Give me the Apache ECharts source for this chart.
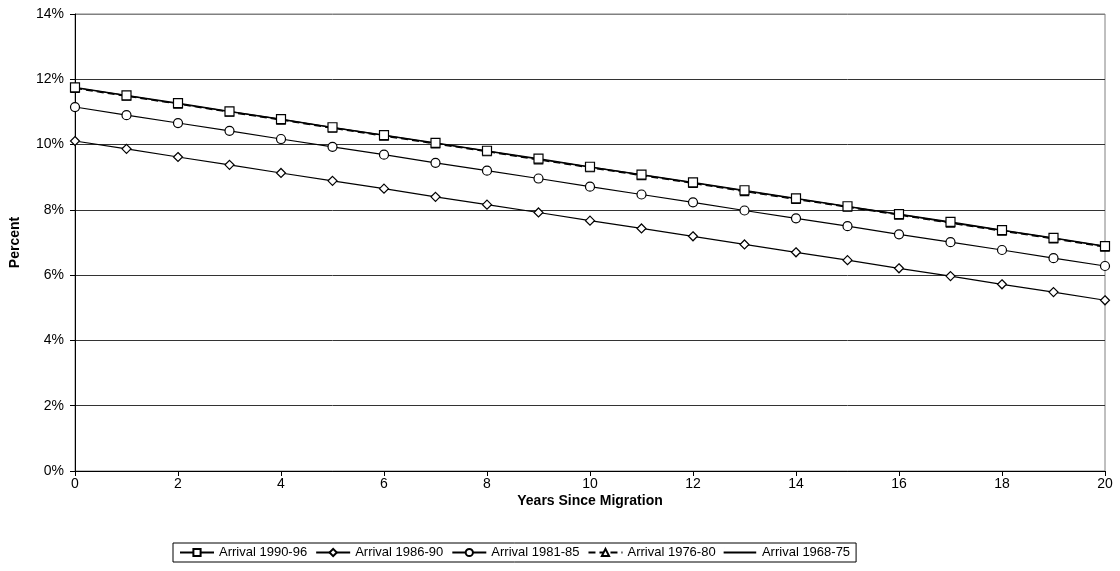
<!DOCTYPE html>
<html>
<head>
<meta charset="utf-8">
<script src="https://cdn.jsdelivr.net/npm/echarts@6/dist/echarts.min.js"></script>
<style>html,body{margin:0;padding:0;background:#fff;}#c{width:1120px;height:571px;}</style>
</head>
<body>
<div id="c"></div>
<script>
const years = [0,1,2,3,4,5,6,7,8,9,10,11,12,13,14,15,16,17,18,19,20];
const arrival9096 = [11.75,11.51,11.27,11.02,10.78,10.53,10.29,10.05,9.81,9.57,9.32,9.08,8.84,8.60,8.35,8.11,7.87,7.63,7.38,7.14,6.89];
const arrival8690 = [10.11,9.87,9.62,9.38,9.13,8.89,8.65,8.40,8.16,7.92,7.67,7.43,7.19,6.94,6.70,6.46,6.21,5.97,5.72,5.48,5.23];
const arrival8185 = [11.15,10.90,10.66,10.42,10.17,9.93,9.69,9.44,9.20,8.96,8.71,8.47,8.23,7.98,7.74,7.50,7.25,7.01,6.77,6.52,6.28];
const arrival7680 = [11.72,11.48,11.24,10.99,10.75,10.50,10.26,10.02,9.78,9.53,9.29,9.05,8.81,8.56,8.32,8.08,7.84,7.59,7.35,7.11,6.86];
const arrival6875 = [11.74,11.50,11.25,11.01,10.77,10.52,10.28,10.04,9.80,9.55,9.31,9.07,8.83,8.58,8.34,8.10,7.86,7.61,7.37,7.13,6.88];
const seriesNames = ['Arrival 1990-96','Arrival 1986-90','Arrival 1981-85','Arrival 1976-80','Arrival 1968-75'];

const font = 'Liberation Sans, Arial, sans-serif';
const pair = arr => years.map((y,i)=>[y, arr[i]]);
const mk = (name, arr, symbol, dashed, size) => ({
  name, type:'line', data: pair(arr),
  symbol: symbol || 'none', symbolSize: size || 8, showSymbol: !!symbol,
  lineStyle:{color:'#000', width:1.2, type: dashed ? [7,4] : 'solid'},
  itemStyle:{color:'#fff', borderColor:'#000', borderWidth:1.2},
  emphasis:{disabled:true}, animation:false, z: 3
});

const chart = echarts.init(document.getElementById('c'), null, {renderer:'canvas'});
chart.setOption({
  backgroundColor:'#fff',
  animation:false,
  grid:{left:75, right:15, top:14, bottom:100, show:true, borderColor:'#808080', borderWidth:1},
  legend:{
    bottom:9, left:173,
    data: [
      seriesNames[0], seriesNames[1], seriesNames[2], seriesNames[3],
      {name: seriesNames[4], icon:'path://M0,0L0.01,0M0,5L34,5L34,5.01L0,5.01ZM34,10L34.01,10'}
    ],
    borderColor:'#000', borderWidth:1, padding:[3,6,3,6],
    itemWidth:34, itemHeight:9, itemGap:8,
    textStyle:{fontFamily:font, fontSize:13, color:'#000'}
  },
  xAxis:{
    type:'value', min:0, max:20, interval:2,
    name:'Years Since Migration', nameLocation:'middle', nameGap:23, nameMoveOverlap:false,
    nameTextStyle:{fontFamily:font, fontSize:14, fontWeight:'bold', color:'#000'},
    axisLine:{show:true, onZero:false, lineStyle:{color:'#000', width:1}},
    axisTick:{show:true, inside:false, length:5, lineStyle:{color:'#000'}},
    axisLabel:{fontFamily:font, fontSize:14, color:'#000', margin:6},
    splitLine:{show:false}
  },
  yAxis:{
    type:'value', min:0, max:14, interval:2,
    name:'Percent', nameLocation:'middle', nameGap:53, nameMoveOverlap:false,
    nameTextStyle:{fontFamily:font, fontSize:14, fontWeight:'bold', color:'#000'},
    axisLine:{show:true, lineStyle:{color:'#000', width:1}},
    axisTick:{show:true, inside:false, length:5, lineStyle:{color:'#000'}},
    axisLabel:{fontFamily:font, fontSize:14, color:'#000', margin:11, formatter: v => v + '%'},
    splitLine:{show:true, lineStyle:{color:['#000','#333','#333','#333','#333','#333','#333','#808080'], width:1}}
  },
  series:[
    mk(seriesNames[4], arrival6875, null, false),
    mk(seriesNames[3], arrival7680, 'triangle', true, 8),
    mk(seriesNames[2], arrival8185, 'circle', false, 9),
    mk(seriesNames[1], arrival8690, 'diamond', false, 9),
    mk(seriesNames[0], arrival9096, 'rect', false, 9)
  ]
});
</script>
</body>
</html>
